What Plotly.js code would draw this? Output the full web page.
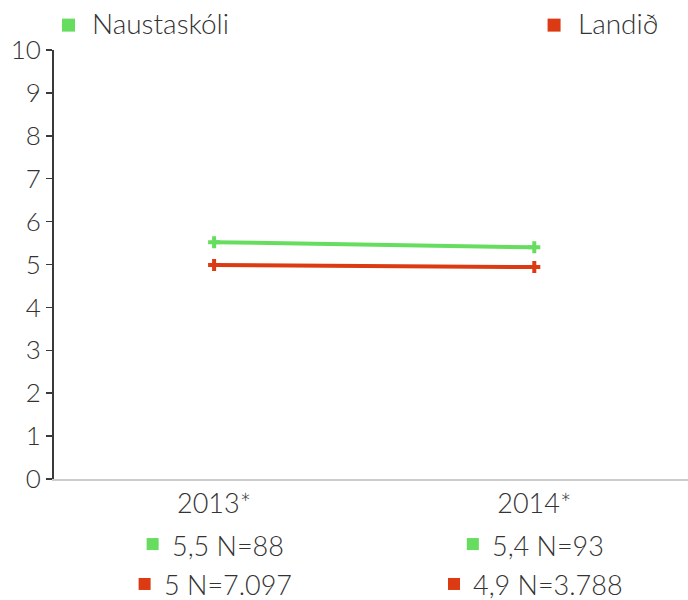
<!DOCTYPE html>
<html>
<head>
<meta charset="utf-8">
<script src="https://cdn.plot.ly/plotly-3.0.1.min.js"></script>
<style>html,body{margin:0;padding:0;background:#fff;}#chart{width:688px;height:600px;}</style>
</head>
<body>
<div id="chart"></div>
<script>
const categories = ['2013*', '2014*'];
const seriesNames = ['Naustaskóli', 'Landið'];
const naustValues = [5.52, 5.40];
const landValues = [4.99, 4.94];
const naustN = ['88', '93'];
const landN = ['7.097', '3.788'];
const colors = ['#66dd5f', '#dc3a12'];

const FONT = 'Lato, "Open Sans", sans-serif';
const WEIGHT = 300;
const TXT = '#333333';

function fmt(v) {
  let s = v.toFixed(1);
  if (s.endsWith('.0')) s = s.slice(0, -2);
  return s.replace('.', ',');
}

const ctx = document.createElement('canvas').getContext('2d');
function textWidth(t, size) {
  ctx.font = WEIGHT + ' ' + size + 'px Lato';
  return ctx.measureText(t).width;
}

const traces = [naustValues, landValues].map((vals, i) => ({
  x: categories,
  y: vals,
  type: 'scatter',
  mode: 'lines+markers',
  name: seriesNames[i],
  line: {color: colors[i], width: 4},
  marker: {symbol: 'cross', size: 10, color: colors[i]},
  hoverinfo: 'skip'
}));

const annotations = [];
const shapes = [];
const SQ = 12;

// legend at top
const legendX = [0.0126, 0.7785];
const legendY = 1.058;
seriesNames.forEach((n, i) => {
  shapes.push({
    type: 'rect', xref: 'paper', yref: 'paper',
    xsizemode: 'pixel', ysizemode: 'pixel',
    xanchor: legendX[i], yanchor: legendY,
    x0: 0, x1: SQ + 1, y0: -(SQ + 1) / 2, y1: (SQ + 1) / 2,
    fillcolor: colors[i], line: {width: 0}
  });
  annotations.push({
    xref: 'paper', yref: 'paper', x: legendX[i], y: 1.063,
    xanchor: 'left', yanchor: 'middle', showarrow: false, xshift: 28,
    text: n,
    font: {family: FONT, size: 28, color: TXT, weight: WEIGHT}
  });
});

// bottom data table
const rows = [[naustValues, naustN], [landValues, landN]];
const rowY = [-0.154, -0.247];
const GAP = 11;
const LBL = 27;
rows.forEach((r, si) => {
  categories.forEach((c, ci) => {
    const label = fmt(r[0][ci]) + ' N=' + r[1][ci];
    const tw = textWidth(label, LBL);
    const W = SQ + GAP + tw;
    const left = -W / 2;
    shapes.push({
      type: 'rect', xref: 'x', yref: 'paper',
      xsizemode: 'pixel', ysizemode: 'pixel',
      xanchor: ci, yanchor: rowY[si],
      x0: left, x1: left + SQ, y0: -SQ / 2 + 1, y1: SQ / 2 + 1,
      fillcolor: colors[si], line: {width: 0}
    });
    annotations.push({
      xref: 'x', yref: 'paper', x: c, y: rowY[si],
      xanchor: 'left', yanchor: 'middle', showarrow: false,
      xshift: left + SQ + GAP,
      text: label,
      font: {family: FONT, size: LBL, color: TXT, weight: WEIGHT}
    });
  });
});

const layout = {
  width: 688, height: 600,
  margin: {l: 54, r: 0, t: 50, b: 121},
  paper_bgcolor: '#fff', plot_bgcolor: '#fff',
  showlegend: false,
  font: {family: FONT, size: 26, color: TXT, weight: WEIGHT},
  xaxis: {
    type: 'category', range: [-0.5, 1.48],
    showline: true, linecolor: '#cccccc', linewidth: 2,
    showgrid: false, zeroline: false, ticks: '',
    tickfont: {family: FONT, size: 27, color: TXT, weight: WEIGHT}
  },
  yaxis: {
    range: [0, 10], dtick: 1, tick0: 0,
    showline: true, linecolor: '#3a3a3a', linewidth: 2,
    ticks: 'outside', ticklen: 6, tickcolor: '#3a3a3a', tickwidth: 1.5,
    showgrid: false, zeroline: false,
    tickfont: {family: FONT, size: 26, color: TXT, weight: WEIGHT}
  },
  annotations: annotations,
  shapes: shapes
};

Plotly.newPlot('chart', traces, layout, {displayModeBar: false, staticPlot: true});
</script>
</body>
</html>
